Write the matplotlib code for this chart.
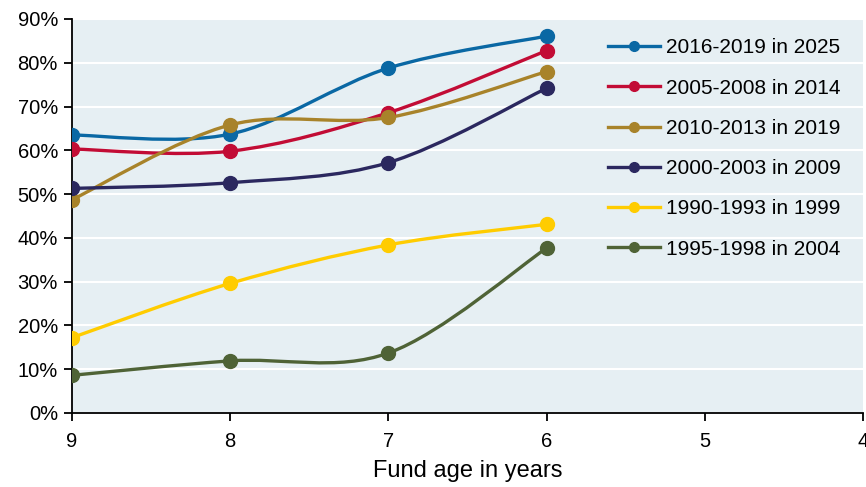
import matplotlib.pyplot as plt
import numpy as np
from matplotlib.path import Path
from matplotlib.patches import PathPatch
from matplotlib.lines import Line2D
from matplotlib.ticker import PercentFormatter

plt.rcParams['font.family'] = ['Liberation Sans', 'DejaVu Sans']

fund_age = [9, 8, 7, 6]
labels = ["2016-2019 in 2025", "2005-2008 in 2014", "2010-2013 in 2019",
          "2000-2003 in 2009", "1990-1993 in 1999", "1995-1998 in 2004"]
colors = ["#0a68a4", "#c20c35", "#a8832a", "#2b285f", "#ffcc00", "#4f6336"]
v_2016 = [63.5, 63.7, 78.8, 86.1]
v_2005 = [60.3, 59.8, 68.6, 82.8]
v_2010 = [48.7, 65.8, 67.5, 78.0]
v_2000 = [51.3, 52.6, 57.2, 74.2]
v_1990 = [17.2, 29.6, 38.4, 43.1]
v_1995 = [8.6, 11.9, 13.7, 37.7]
series = [v_2016, v_2005, v_2010, v_2000, v_1990, v_1995]


def smooth_path(x, y):
    # Excel-like smoothed line: cubic bezier segments (Catmull-Rom)
    x = np.asarray(x, float)
    y = np.asarray(y, float)
    verts = [(x[0], y[0])]
    codes = [Path.MOVETO]
    n = len(x)
    for i in range(n - 1):
        x0, y0 = (x[i - 1], y[i - 1]) if i > 0 else (x[i], y[i])
        x3, y3 = (x[i + 2], y[i + 2]) if i + 2 < n else (x[i + 1], y[i + 1])
        c1 = (x[i] + (x[i + 1] - x0) / 6, y[i] + (y[i + 1] - y0) / 6)
        c2 = (x[i + 1] - (x3 - x[i]) / 6, y[i + 1] - (y3 - y[i]) / 6)
        verts += [c1, c2, (x[i + 1], y[i + 1])]
        codes += [Path.CURVE4] * 3
    return Path(verts, codes)


fig = plt.figure(figsize=(8.66, 4.87), dpi=100)
ax = fig.add_axes([0.083, 0.152, 0.914, 0.809])
ax.set_facecolor("#e6eff3")

handles = []
for vals, col, lab in zip(series, colors, labels):
    ax.add_patch(PathPatch(smooth_path(fund_age, vals), fill=False,
                           edgecolor=col, lw=2.4, zorder=3))
    ax.plot(fund_age, vals, "o", color=col, ms=10, zorder=4)
    handles.append(Line2D([], [], color=col, lw=2.4, marker="o", ms=7, label=lab))

ax.set_xlim(9, 4)
ax.set_ylim(0, 90)
ax.set_yticks(np.arange(0, 91, 10))
ax.yaxis.set_major_formatter(PercentFormatter(decimals=0))
ax.grid(axis="y", color="white", lw=1.5)
ax.set_axisbelow(True)
for s in ["top", "right"]:
    ax.spines[s].set_visible(False)
ax.spines["left"].set_linewidth(1.3)
ax.spines["bottom"].set_linewidth(1.3)
ax.tick_params(axis="both", labelsize=14.5, width=1.3, length=6, color="black")
ax.tick_params(axis="x", pad=8)
ax.tick_params(axis="y", pad=4)
ax.set_xlabel("Fund age in years", fontsize=17, labelpad=6)

ax.legend(handles=handles, loc="upper left", bbox_to_anchor=(0.664, 0.977),
          frameon=False, fontsize=15, labelspacing=1.02, handlelength=2.5,
          handletextpad=0.3, borderpad=0)

fig.savefig("out.png", dpi=100)
